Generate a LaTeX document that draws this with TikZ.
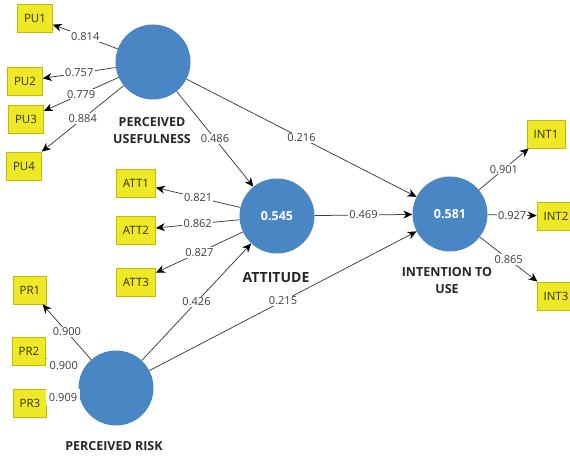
\documentclass[tikz,border=0pt]{standalone}
\usepackage{fontspec}
\setmainfont{Open Sans}
\usetikzlibrary{arrows.meta}
\definecolor{lvblue}{RGB}{74,134,196}
\definecolor{mvyellow}{RGB}{238,232,38}
\definecolor{mvborder}{RGB}{196,188,0}
\definecolor{linkgray}{RGB}{60,60,60}
\definecolor{mvtext}{RGB}{50,50,0}
\tikzset{
  latent/.style={circle, fill=lvblue, minimum size=75pt, inner sep=0pt, text=white,
    font=\fontsize{12.5}{15}\selectfont\bfseries},
  manifest/.style={rectangle, fill=mvyellow, draw=mvborder, line width=0.8pt,
    minimum height=28pt, inner xsep=6.5pt, inner ysep=0pt, text=mvtext,
    font=\fontsize{11.5}{13}\selectfont},
  link/.style={draw=linkgray, line width=0.75pt, -{Stealth[length=9pt,width=8pt,black]}},
  coef/.style={fill=white, inner sep=1.2pt, text=linkgray, font=\fontsize{11}{12}\selectfont},
  caption/.style={align=center, text=black!85, font=\fontsize{12.5}{17}\selectfont\bfseries}
}
\begin{document}
\begin{tikzpicture}[x=1pt, y=-1pt]
  \useasboundingbox (0,0) rectangle (570,457);

  % latent variables
  \node[latent] (pu)  at (153,62)  {};
  \node[latent] (att) at (277,216) {0.545};
  \node[latent] (int) at (450,214) {0.581};
  \node[latent] (pr)  at (116,388) {};

  % indicators
  \node[manifest] (pu1) at (35,18)  {PU1};
  \node[manifest] (pu2) at (25,81)  {PU2};
  \node[manifest] (pu3) at (26,119) {PU3};
  \node[manifest] (pu4) at (24,166) {PU4};
  \node[manifest] (att1) at (136,183) {ATT1};
  \node[manifest] (att2) at (136,230) {ATT2};
  \node[manifest] (att3) at (136,282) {ATT3};
  \node[manifest] (pr1) at (30,290) {PR1};
  \node[manifest] (pr2) at (29,351) {PR2};
  \node[manifest] (pr3) at (30,403) {PR3};
  \node[manifest] (int1) at (546,134) {INT1};
  \node[manifest] (int2) at (556,216) {INT2};
  \node[manifest] (int3) at (556,296) {INT3};

  % construct names
  \node[caption] (pucap)  at (152,131) {PERCEIVED\\USEFULNESS};
  \node[caption, font=\fontsize{14}{17}\selectfont\bfseries] (attcap) at (276,278) {ATTITUDE};
  \node[caption] (intcap) at (447,281) {INTENTION TO\\USE};
  \node[caption] (prcap)  at (114,446) {PERCEIVED RISK};

  % outer loadings
  \draw[link] (pu) -- node[coef]{0.814} (pu1);
  \draw[link] (pu) -- node[coef]{0.757} (pu2);
  \draw[link] (pu) -- node[coef]{0.779} (pu3);
  \draw[link] (pu) -- node[coef]{0.884} (pu4);
  \draw[link] (att) -- node[coef]{0.821} (att1);
  \draw[link] (att) -- node[coef]{0.862} (att2);
  \draw[link] (att) -- node[coef]{0.827} (att3);
  \draw[link] (pr) -- node[coef]{0.900} (pr1);
  \draw[link] (pr) -- node[coef, inner xsep=3pt, inner ysep=4pt]{0.900} (pr2);
  \draw[link] (pr) -- node[coef, inner xsep=3pt, inner ysep=4pt]{0.909} (pr3);
  \draw[link] (int) -- node[coef]{0.901} (int1);
  \draw[link] (int) -- node[coef]{0.927} (int2);
  \draw[link] (int) -- node[coef]{0.865} (int3);

  % path coefficients
  \draw[link] (pu) -- node[coef]{0.486} (att);
  \draw[link] (pu) -- node[coef]{0.216} (int);
  \draw[link] (att) -- node[coef]{0.469} (int);
  \draw[link] (pr) -- node[coef]{0.426} (att);
  \draw[link] (pr) -- node[coef]{0.215} (int);
\end{tikzpicture}
\end{document}
